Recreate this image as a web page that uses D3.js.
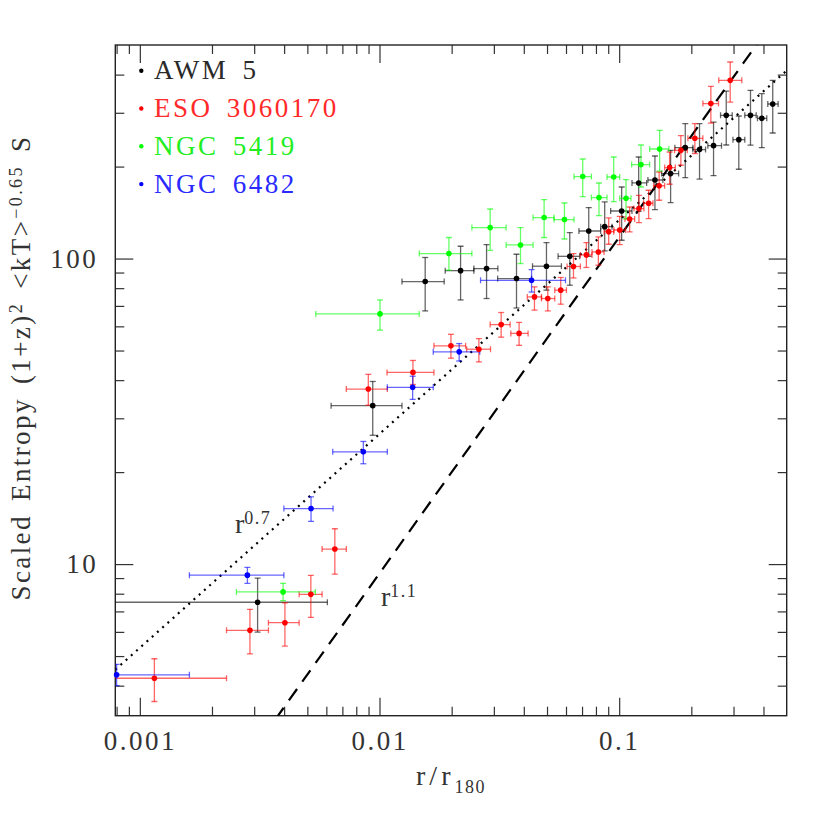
<!DOCTYPE html>
<html><head><meta charset="utf-8">
<script src="https://cdn.jsdelivr.net/npm/d3@7/dist/d3.min.js"></script>
<style>
body{margin:0;background:#fff;}
svg text{font-family:"Liberation Serif","Times New Roman",serif;}
</style></head><body>
<svg id="chart" width="830" height="830"></svg>
<script>
// ---------------- data ----------------
const seriesNames  = ["AWM 5", "ESO 3060170", "NGC 5419", "NGC 6482"];
const seriesColors = ["#000000", "#ff0000", "#00ff00", "#0000ff"];
const textColors   = ["#2a2a2a", "#ff2a2a", "#22ee22", "#2a2aff"];

// each row: [r, rLow, rHigh, S, SLow, SHigh]
const awm5 = [
  [0.00310,0.0006,0.00606, 7.50, 5.99, 9.00],
  [0.00937,0.00628,0.01241, 33.0, 26.4, 39.6],
  [0.01551,0.01241,0.01862, 84.1, 67.4,100.8],
  [0.02179,0.01880,0.02476, 91.3, 73.2,109.7],
  [0.02797,0.02476,0.03118, 92.7, 74.0,111.1],
  [0.03729,0.03111,0.04307, 86.0, 68.9,103.3],
  [0.04973,0.04349,0.05742, 94.4, 78.8,112.8],
  [0.06221,0.05559,0.06844,101.7, 81.8,121.6],
  [0.07464,0.06794,0.08373,123.1,101.7,146.9],
  [0.08701,0.08373,0.09333,127.2,105.9,153.2],
  [0.1024, 0.09213,0.1131, 143.1,114.8,171.5],
  [0.1206, 0.1131, 0.1302, 176.8,142.8,215.0],
  [0.1410, 0.1318, 0.1522, 180.8,144.6,216.6],
  [0.1639, 0.1503, 0.1770, 189.7,152.5,226.0],
  [0.1887, 0.1708, 0.2030, 230.7,184.0,276.4],
  [0.2164, 0.2030, 0.2293, 227.3,182.1,276.4],
  [0.2476, 0.2344, 0.2673, 234.2,186.8,279.8],
  [0.2797, 0.2648, 0.2963, 294.3,235.3,353.4],
  [0.3156, 0.2983, 0.3343, 245.0,196.0,292.8],
  [0.3531, 0.3343, 0.3730, 294.3,235.0,355.3],
  [0.3936, 0.3777, 0.4128, 287.7,230.7,346.5],
  [0.4372, 0.4169, 0.4605, 320.5,257.6,383.1]
];
const eso3060170 = [
  [0.00115,0.0006,0.00230, 4.23, 3.55, 4.90],
  [0.00288,0.00230,0.00344, 6.07, 5.08, 7.11],
  [0.00403,0.00344,0.00462, 6.43, 5.39, 7.47],
  [0.00517,0.00462,0.00576, 7.96, 6.69, 9.18],
  [0.00651,0.00576,0.00727, 11.2, 9.27, 13.05],
  [0.00898,0.00727,0.01078, 37.4, 33.1, 41.8],
  [0.01379,0.01075,0.01687, 42.4, 38.7, 46.4],
  [0.01986,0.01687,0.02287, 51.8, 47.2, 56.5],
  [0.02598,0.02310,0.02906, 50.5, 45.9, 54.7],
  [0.03218,0.02895,0.03508, 60.8, 55.3, 66.6],
  [0.03823,0.03530,0.04169, 56.9, 52.0, 61.8],
  [0.04432,0.04137,0.04741, 74.9, 67.8, 80.8],
  [0.05036,0.04741,0.05387, 74.0, 67.4, 80.8],
  [0.05704,0.05387,0.06026, 78.8, 70.9, 86.7],
  [0.06446,0.06061,0.06890, 94.2, 86.4,103.8],
  [0.07298,0.06890,0.07701,102.8, 93.5,112.8],
  [0.08189,0.07701,0.08648,105.1, 95.1,117.7],
  [0.09042,0.08648,0.09487,122.5,111.4,135.8],
  [0.1005, 0.0951, 0.1064, 124.0,111.1,137.5],
  [0.1106, 0.1057, 0.1160, 134.8,122.2,147.5],
  [0.1209, 0.1153, 0.1268, 145.7,131.2,161.1],
  [0.1327, 0.1265, 0.1383, 151.7,135.2,167.3],
  [0.1468, 0.1392, 0.1548, 173.1,155.2,192.0],
  [0.1623, 0.1548, 0.1715, 198.5,175.1,223.2],
  [0.1809, 0.1703, 0.1924, 226.0,202.0,252.6],
  [0.2069, 0.1935, 0.2235, 247.5,220.5,276.4],
  [0.2413, 0.2235, 0.2597, 321.5,277.7,366.2],
  [0.2906, 0.2603, 0.3248, 383.1,325.3,439.8]
];
const ngc5419 = [
  [0.00396,0.00253,0.00540, 8.11, 7.59, 8.65],
  [0.01005,0.00542,0.01465, 65.9, 58.3, 73.2],
  [0.01948,0.01465,0.02429,103.8, 91.6,117.2],
  [0.02895,0.02429,0.03376,126.3,106.4,145.3],
  [0.03875,0.03376,0.04373,110.8, 96.3,126.3],
  [0.04862,0.04373,0.05349,136.2,117.2,156.0],
  [0.05911,0.05349,0.06481,134.2,115.9,152.0],
  [0.07046,0.06481,0.07659,185.5,159.5,211.8],
  [0.08237,0.07659,0.08896,158.3,138.3,176.7],
  [0.09487,0.08896,0.1005, 184.9,153.6,215.0],
  [0.1068, 0.1005, 0.1120, 157.5,134.8,181.3],
  [0.1233, 0.1127, 0.1340, 203.0,171.5,235.3],
  [0.1475, 0.1340, 0.1612, 228.3,193.4,262.8]
];
const ngc6482 = [
  [0.00080,0.0006,0.00161, 4.34, 4.00, 4.70],
  [0.00281,0.00161,0.00399, 9.20, 8.65, 9.75],
  [0.00518,0.00399,0.00640, 15.2, 13.8, 16.6],
  [0.00856,0.00638,0.01078, 23.3, 21.3, 25.2],
  [0.01375,0.01078,0.01676, 37.9, 34.6, 41.2],
  [0.0215, 0.01676,0.0262,  49.5, 46.2, 52.7],
  [0.0431, 0.0264, 0.0597,  84.9, 77.7, 92.0]
];
const allSeries = [awm5, eso3060170, ngc5419, ngc6482];

const xTickValues = [0.001, 0.01, 0.1];
const xTickLabels = ["0.001", "0.01", "0.1"];
const xMinorTicks = [0.0008,0.0009, 0.002,0.003,0.004,0.005,0.006,0.007,0.008,0.009,
                     0.02,0.03,0.04,0.05,0.06,0.07,0.08,0.09, 0.2,0.3,0.4];
const yTickValues = [10, 100];
const yTickLabels = ["10", "100"];
const yMinorTicks = [4,5,6,7,8,9, 20,30,40,50,60,70,80,90, 200,300,400];

// power laws S = norm * r^exp
const lawExponents = [0.7, 1.1];
const lawNorms     = [670, 1478];
const lawLabels    = ["0.7", "1.1"];

// ---------------- layout ----------------
const L = 115.3, R = 786.7, T = 45, B = 715.7;
const svg = d3.select("#chart");
const x = d3.scaleLog().domain([0.00079, 0.5]).range([L, R]);
const y = d3.scaleLog().domain([3.19, 500]).range([B, T]);

svg.append("rect").attr("width",830).attr("height",830).attr("fill","#fff");
svg.append("defs").append("clipPath").attr("id","plotclip")
  .append("rect").attr("x",L).attr("y",T).attr("width",R-L).attr("height",B-T);

const tickColor = "#333";
function styleAxis(g, withLabels){
  g.select(".domain").remove();
  g.selectAll(".tick line").attr("stroke",tickColor).attr("stroke-width",1.2);
  g.selectAll("text").attr("font-family",'"Liberation Serif","Times New Roman",serif')
    .attr("font-size",27).attr("fill","#333").attr("letter-spacing","2.5px");
}
// bottom
svg.append("g").attr("transform",`translate(0,${B})`)
  .call(d3.axisBottom(x).tickValues(xTickValues).tickFormat((d,i)=>xTickLabels[i])
    .tickSizeInner(-18).tickSizeOuter(0).tickPadding(15)).call(styleAxis);
svg.append("g").attr("transform",`translate(0,${B})`)
  .call(d3.axisBottom(x).tickValues(xMinorTicks).tickFormat("").tickSizeInner(-9).tickSizeOuter(0)).call(styleAxis);
// top
svg.append("g").attr("transform",`translate(0,${T})`)
  .call(d3.axisTop(x).tickValues(xTickValues).tickFormat("").tickSizeInner(-18).tickSizeOuter(0)).call(styleAxis);
svg.append("g").attr("transform",`translate(0,${T})`)
  .call(d3.axisTop(x).tickValues(xMinorTicks).tickFormat("").tickSizeInner(-9).tickSizeOuter(0)).call(styleAxis);
// left
svg.append("g").attr("transform",`translate(${L},0)`)
  .call(d3.axisLeft(y).tickValues(yTickValues).tickFormat((d,i)=>yTickLabels[i])
    .tickSizeInner(-18).tickSizeOuter(0).tickPadding(17)).call(styleAxis);
svg.append("g").attr("transform",`translate(${L},0)`)
  .call(d3.axisLeft(y).tickValues(yMinorTicks).tickFormat("").tickSizeInner(-9).tickSizeOuter(0)).call(styleAxis);
// right
svg.append("g").attr("transform",`translate(${R},0)`)
  .call(d3.axisRight(y).tickValues(yTickValues).tickFormat("").tickSizeInner(-18).tickSizeOuter(0)).call(styleAxis);
svg.append("g").attr("transform",`translate(${R},0)`)
  .call(d3.axisRight(y).tickValues(yMinorTicks).tickFormat("").tickSizeInner(-9).tickSizeOuter(0)).call(styleAxis);

// frame
svg.append("rect").attr("x",L).attr("y",T).attr("width",R-L).attr("height",B-T)
  .attr("fill","none").attr("stroke","#222").attr("stroke-width",1.4);

// power-law lines
const plot = svg.append("g").attr("clip-path","url(#plotclip)");
const lawLine = d3.line().x(d=>x(d[0])).y(d=>y(d[1]));
const dom = x.domain();
lawExponents.forEach((p,i)=>{
  const pts = [dom[0], dom[1]].map(r=>[r, lawNorms[i]*Math.pow(r,p)]);
  plot.append("path").attr("d",lawLine(pts)).attr("fill","none")
    .attr("stroke","#000").attr("stroke-width",2.2)
    .attr("stroke-dasharray", i===0 ? "2,5" : "14,9");
});

// error bars and points
const cap = 3;
allSeries.forEach((data,si)=>{
  const col = seriesColors[si];
  const eg = plot.append("g").attr("stroke",col).attr("stroke-opacity",0.6).attr("stroke-width",1.3);
  data.forEach(d=>{
    const cx = x(d[0]), cy = y(d[3]);
    const x0 = x(d[1]), x1 = x(d[2]), y0 = y(d[4]), y1 = y(d[5]);
    eg.append("line").attr("x1",x0).attr("x2",x1).attr("y1",cy).attr("y2",cy);
    eg.append("line").attr("x1",x0).attr("x2",x0).attr("y1",cy-cap).attr("y2",cy+cap);
    eg.append("line").attr("x1",x1).attr("x2",x1).attr("y1",cy-cap).attr("y2",cy+cap);
    eg.append("line").attr("x1",cx).attr("x2",cx).attr("y1",y0).attr("y2",y1);
    eg.append("line").attr("x1",cx-cap).attr("x2",cx+cap).attr("y1",y0).attr("y2",y0);
    eg.append("line").attr("x1",cx-cap).attr("x2",cx+cap).attr("y1",y1).attr("y2",y1);
  });
});
allSeries.forEach((data,si)=>{
  svg.append("g").selectAll("circle").data(data).join("circle")
    .attr("cx",d=>x(d[0])).attr("cy",d=>y(d[3])).attr("r",2.8)
    .attr("fill",seriesColors[si]);
});

// legend
seriesNames.forEach((name,i)=>{
  const ly = 70.7 + i*37.8;
  svg.append("circle").attr("cx",141.3).attr("cy",ly).attr("r",2.2).attr("fill",seriesColors[i]);
  svg.append("text").attr("x",154).attr("y",ly+8.5).attr("font-size",27)
    .attr("fill",textColors[i]).attr("letter-spacing","2.5px").attr("word-spacing","5px").text(name);
});

// power-law annotations
const annot = [[235, 533], [381, 606]];
lawLabels.forEach((lab,i)=>{
  const t = svg.append("text").attr("x",annot[i][0]).attr("y",annot[i][1])
    .attr("font-size",28).attr("fill","#333");
  t.append("tspan").text("r");
  t.append("tspan").attr("dy",-9).attr("font-size",18).attr("letter-spacing","1.5px").text(lab);
});

// axis titles
const xt = svg.append("text").attr("x",451).attr("y",785).attr("text-anchor","middle")
  .attr("font-size",28).attr("fill","#333").attr("letter-spacing","4px");
xt.append("tspan").text("r/r");
xt.append("tspan").attr("dy",8).attr("font-size",18).attr("letter-spacing","1.5px").text("180");

const yt = svg.append("text").attr("transform","translate(30,367.5) rotate(-90)")
  .attr("text-anchor","middle").attr("font-size",27).attr("fill","#333")
  .attr("letter-spacing","2.4px").attr("word-spacing","4px");
yt.append("tspan").text("Scaled Entropy (1+z)");
yt.append("tspan").attr("dy",-8).attr("font-size",18).text("2");
yt.append("tspan").attr("dy",8).text(" <kT>");
yt.append("tspan").attr("dy",-8).attr("font-size",18).text("\u22120.65");
yt.append("tspan").attr("dy",8).text(" S");
</script>
</body></html>
